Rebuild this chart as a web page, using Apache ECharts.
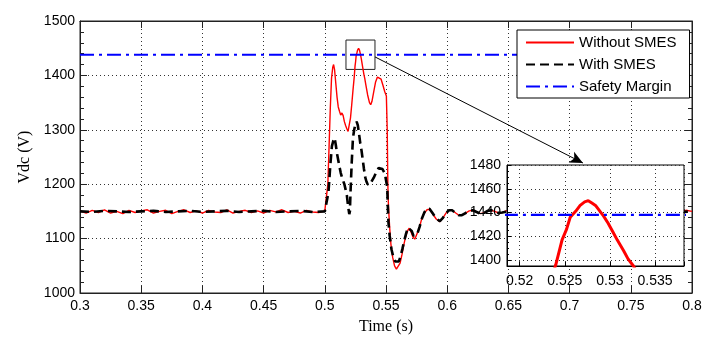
<!DOCTYPE html>
<html>
<head>
<meta charset="utf-8">
<script src="https://cdn.jsdelivr.net/npm/echarts@6/dist/echarts.min.js"></script>
<style>
  html, body { margin: 0; padding: 0; background: #fff; }
  #chart { width: 718px; height: 342px; }
</style>
</head>
<body>
<div id="chart"></div>
<script>
// ---------------- DATA ----------------
const xTicks = { min: 0.3, max: 0.8, step: 0.05 };
const yTicks = { min: 1000, max: 1500, step: 100 };
const insetX = { min: 0.5186, max: 0.5382 };
const insetY = { min: 1395, max: 1480 };
const safetyLevel = 1438;
const zoomBox = { t0: 0.5173, t1: 0.5410, v0: 1411, v1: 1465 };
const arrowFrom = [0.5410, 1434];
const arrowTo = [0.7109, 1239];

// Without SMES (red) : [time, Vdc]
const withoutSMES = [
  [0.300,1151],[0.305,1147],[0.310,1152],[0.315,1148],[0.320,1153],[0.325,1147],[0.330,1150],
  [0.335,1146],[0.340,1152],[0.345,1148],[0.350,1151],[0.355,1153],[0.360,1147],[0.365,1150],
  [0.370,1152],[0.375,1146],[0.380,1150],[0.385,1153],[0.390,1148],[0.395,1151],[0.400,1147],
  [0.405,1152],[0.410,1149],[0.415,1148],[0.420,1153],[0.425,1147],[0.430,1150],[0.435,1152],
  [0.440,1148],[0.445,1151],[0.450,1147],[0.455,1152],[0.460,1149],[0.465,1153],[0.470,1148],
  [0.475,1150],[0.480,1147],[0.485,1152],[0.490,1149],[0.495,1148],[0.500,1151],[0.5016,1152],
  [0.5025,1200],[0.5035,1270],[0.5045,1340],[0.5055,1395],[0.5065,1415],[0.5072,1420],
  [0.508,1410],[0.509,1385],[0.510,1360],[0.511,1342],[0.512,1334],[0.513,1327],[0.514,1331],
  [0.515,1326],[0.516,1315],[0.517,1308],[0.518,1302],[0.519,1297],[0.520,1300],[0.521,1322],
  [0.522,1346],[0.523,1372],[0.524,1396],[0.5247,1417],[0.5252,1426],[0.5256,1436],[0.5262,1441],
  [0.5267,1446],[0.5272,1449],[0.5276,1450],[0.528,1448],[0.5284,1446],[0.5289,1441],[0.5293,1437],
  [0.5298,1431],[0.5303,1424],[0.5308,1417],[0.5315,1408],[0.532,1401],[0.5326,1395],[0.5335,1383],
  [0.535,1364],[0.5365,1350],[0.5375,1346],[0.5385,1352],[0.540,1370],[0.5415,1388],[0.543,1397],
  [0.5445,1399],[0.546,1393],[0.5475,1382],[0.549,1370],[0.5503,1362],[0.5510,1300],[0.5515,1200],
  [0.552,1160],[0.553,1120],[0.554,1090],[0.5555,1065],[0.557,1050],[0.5585,1044],[0.560,1046],
  [0.5615,1055],[0.563,1070],[0.5645,1088],[0.566,1103],[0.5675,1114],[0.569,1119],[0.5705,1112],
  [0.572,1103],[0.5735,1099],[0.575,1102],[0.577,1118],[0.579,1135],[0.581,1146],[0.5835,1153],
  [0.5855,1154],[0.588,1146],[0.591,1136],[0.594,1131],[0.5965,1138],[0.599,1147],[0.6015,1152],
  [0.604,1152],[0.607,1147],[0.6095,1143],[0.612,1143],[0.615,1147],[0.618,1151],[0.621,1152],
  [0.624,1149],[0.627,1146],[0.630,1147],[0.633,1151],[0.636,1152],[0.639,1150],[0.642,1147],
  [0.645,1148],[0.648,1151],[0.651,1151],[0.660,1149],[0.670,1151],[0.680,1148],[0.690,1150],
  [0.700,1152],[0.710,1149],[0.720,1150],[0.730,1148],[0.740,1151],[0.750,1150],[0.760,1149],
  [0.770,1151],[0.780,1148],[0.785,1151],[0.790,1149],[0.795,1152],[0.800,1150]
];

// With SMES (black dashed) : [time, Vdc]
const withSMES = [
  [0.300,1150],[0.310,1149],[0.320,1151],[0.330,1150],[0.340,1149],[0.350,1150],[0.360,1151],
  [0.370,1149],[0.380,1150],[0.390,1151],[0.400,1149],[0.410,1150],[0.420,1151],[0.430,1149],
  [0.440,1150],[0.450,1151],[0.460,1149],[0.470,1150],[0.480,1151],[0.490,1149],[0.500,1150],
  [0.5016,1151],[0.503,1185],[0.5045,1235],[0.5058,1270],[0.507,1280],[0.508,1285],[0.509,1272],
  [0.510,1256],[0.511,1244],[0.512,1232],[0.513,1221],[0.514,1213],[0.515,1206],[0.516,1200],
  [0.517,1190],[0.518,1180],[0.519,1160],[0.520,1145],[0.5205,1150],[0.521,1185],[0.522,1240],
  [0.523,1285],[0.524,1300],[0.525,1310],[0.526,1315],[0.527,1308],[0.528,1292],[0.529,1275],
  [0.530,1262],[0.531,1245],[0.532,1228],[0.533,1213],[0.534,1205],[0.535,1200],[0.536,1200],
  [0.537,1199],[0.538,1204],[0.540,1212],[0.542,1222],[0.544,1230],[0.5455,1233],[0.547,1228],
  [0.549,1220],[0.5503,1218],[0.551,1195],[0.5515,1160],[0.552,1130],[0.553,1105],[0.5545,1080],
  [0.556,1066],[0.5575,1058],[0.559,1055],[0.5605,1058],[0.562,1068],[0.5635,1082],[0.565,1097],
  [0.5665,1110],[0.568,1120],[0.5695,1121],[0.571,1114],[0.5725,1105],[0.574,1103],[0.5755,1108],
  [0.5775,1122],[0.5795,1138],[0.5815,1149],[0.5835,1155],[0.5855,1155],[0.588,1147],[0.591,1137],
  [0.594,1132],[0.5965,1138],[0.599,1147],[0.6015,1152],[0.604,1152],[0.607,1147],[0.6095,1143],
  [0.612,1143],[0.615,1147],[0.618,1151],[0.621,1152],[0.624,1149],[0.627,1146],[0.630,1147],
  [0.633,1151],[0.636,1152],[0.639,1150],[0.642,1147],[0.645,1148],[0.650,1150],[0.660,1150],
  [0.680,1149],[0.700,1151],[0.720,1150],[0.740,1149],[0.760,1151],[0.780,1150],[0.790,1149],
  [0.800,1150]
];

const safetyLine = [[xTicks.min, safetyLevel], [xTicks.max, safetyLevel]];
const legendNames = ['Without SMES', 'With SMES', 'Safety Margin'];

// ---------------- CHART ----------------
const SANS = '"Liberation Sans", Arial, sans-serif';
const SERIF = '"Liberation Serif", "Times New Roman", serif';
const dotted = { color: '#333', width: 1, type: [1, 3] };

const chart = echarts.init(document.getElementById('chart'), null, { renderer: 'canvas' });

const onStep = (v, step) => Math.abs(v / step - Math.round(v / step)) < 1e-6;

chart.setOption({
  animation: false,
  backgroundColor: '#fff',
  grid: [
    { left: 80, top: 21, right: 26, bottom: 49, show: true, borderColor: '#222', borderWidth: 1,
      backgroundColor: 'transparent' },
    { left: 507, top: 165, width: 177, height: 101, show: true, borderColor: '#000', borderWidth: 1,
      backgroundColor: '#fff', z: 3 }
  ],
  legend: {
    data: legendNames,
    orient: 'vertical',
    left: 517, top: 30,
    backgroundColor: '#fff',
    borderColor: '#000', borderWidth: 1,
    padding: [5, 13, 4, 8],
    itemWidth: 48, itemHeight: 14, itemGap: 7,
    itemStyle: { opacity: 0 },
    textStyle: { fontFamily: SANS, fontSize: 15, color: '#000' }
  },
  xAxis: [
    { type: 'value', gridIndex: 0, min: xTicks.min, max: xTicks.max, interval: xTicks.step,
      name: 'Time (s)', nameLocation: 'middle', nameGap: 26,
      nameTextStyle: { fontFamily: SERIF, fontSize: 16, color: '#000' },
      axisLine: { show: true, onZero: false, lineStyle: { color: '#222' } },
      axisTick: { show: true, inside: true, length: 7, lineStyle: { color: '#222' } },
      axisLabel: { margin: 6, fontFamily: SANS, fontSize: 14, color: '#000',
        formatter: v => String(+v.toFixed(3)) },
      splitLine: { show: true, lineStyle: dotted } },
    { type: 'value', gridIndex: 0, position: 'top', min: xTicks.min, max: xTicks.max, interval: xTicks.step,
      axisLine: { show: true, onZero: false, lineStyle: { color: '#222' } },
      axisTick: { show: true, inside: true, length: 7, lineStyle: { color: '#222' } },
      axisLabel: { show: false }, splitLine: { show: false } },
    { type: 'value', gridIndex: 1, min: insetX.min, max: insetX.max, splitNumber: 4, z: 3,
      axisLine: { show: true, onZero: false, lineStyle: { color: '#000' } },
      axisTick: { show: true, inside: true, length: 4, lineStyle: { color: '#000' } },
      axisLabel: { margin: 8, fontFamily: SANS, fontSize: 14, color: '#000',
        formatter: v => onStep(v, 0.005) ? String(+v.toFixed(3)) : '' },
      splitLine: { show: true, lineStyle: dotted } }
  ],
  yAxis: [
    { type: 'value', gridIndex: 0, min: yTicks.min, max: yTicks.max, interval: yTicks.step,
      name: 'Vdc (V)', nameLocation: 'middle', nameGap: 44,
      nameTextStyle: { fontFamily: SERIF, fontSize: 16, color: '#000' },
      axisLine: { show: true, onZero: false, lineStyle: { color: '#222' } },
      axisTick: { show: true, inside: true, length: 7, lineStyle: { color: '#222' } },
      minorTick: { show: true, splitNumber: 5, length: 4, lineStyle: { color: '#222' } },
      axisLabel: { margin: 5, fontFamily: SANS, fontSize: 14, color: '#000',
        formatter: v => String(Math.round(v)) },
      splitLine: { show: true, lineStyle: dotted } },
    { type: 'value', gridIndex: 0, position: 'right', min: yTicks.min, max: yTicks.max, interval: yTicks.step,
      axisLine: { show: true, onZero: false, lineStyle: { color: '#222' } },
      axisTick: { show: true, inside: true, length: 7, lineStyle: { color: '#222' } },
      minorTick: { show: true, splitNumber: 5, length: 4, lineStyle: { color: '#222' } },
      axisLabel: { show: false }, splitLine: { show: false } },
    { type: 'value', gridIndex: 1, min: insetY.min, max: insetY.max, splitNumber: 4, z: 3,
      axisLine: { show: true, onZero: false, lineStyle: { color: '#000' } },
      axisTick: { show: true, inside: true, length: 4, lineStyle: { color: '#000' } },
      minorTick: { show: true, splitNumber: 4, length: 2, lineStyle: { color: '#000' } },
      axisLabel: { margin: 6, fontFamily: SANS, fontSize: 14, color: '#000',
        formatter: v => onStep(v, 20) ? String(Math.round(v)) : '' },
      splitLine: { show: true, lineStyle: dotted } }
  ],
  series: [
    { name: 'Without SMES', type: 'line', xAxisIndex: 0, yAxisIndex: 0, data: withoutSMES,
      symbol: 'none', z: 2, color: '#ff0000', lineStyle: { color: '#ff0000', width: 1.4 } },
    { name: 'With SMES', type: 'line', xAxisIndex: 0, yAxisIndex: 0, data: withSMES,
      symbol: 'none', z: 2, color: '#000', lineStyle: { color: '#000', width: 2.6, type: [9, 5] } },
    { name: 'Safety Margin', type: 'line', xAxisIndex: 0, yAxisIndex: 0, data: safetyLine,
      symbol: 'none', z: 2, color: '#0000ff', lineStyle: { color: '#0000ff', width: 2, type: [14, 5, 3, 5] } },
    { name: 'annotations', type: 'line', xAxisIndex: 0, yAxisIndex: 0, data: [], symbol: 'none',
      markArea: { silent: true, z: 2,
        itemStyle: { color: 'rgba(0,0,0,0)', borderColor: '#222', borderWidth: 1 },
        data: [[{ coord: [zoomBox.t0, zoomBox.v1] }, { coord: [zoomBox.t1, zoomBox.v0] }]] },
      markLine: { silent: true, z: 6, symbol: ['none', 'arrow'], symbolSize: [9, 13],
        label: { show: false },
        lineStyle: { color: '#000', width: 1, type: 'solid' },
        data: [[{ coord: arrowFrom }, { coord: arrowTo }]] } },
    { name: 'Without SMES (zoom)', type: 'line', xAxisIndex: 2, yAxisIndex: 2, data: withoutSMES,
      symbol: 'none', z: 4, clip: true, lineStyle: { color: '#ff0000', width: 3 } },
    { name: 'Safety Margin (zoom)', type: 'line', xAxisIndex: 2, yAxisIndex: 2, data: safetyLine,
      symbol: 'none', z: 4, clip: true, lineStyle: { color: '#0000ff', width: 2.2, type: [14, 5, 3, 5] } }
  ]
});
</script>
</body>
</html>
